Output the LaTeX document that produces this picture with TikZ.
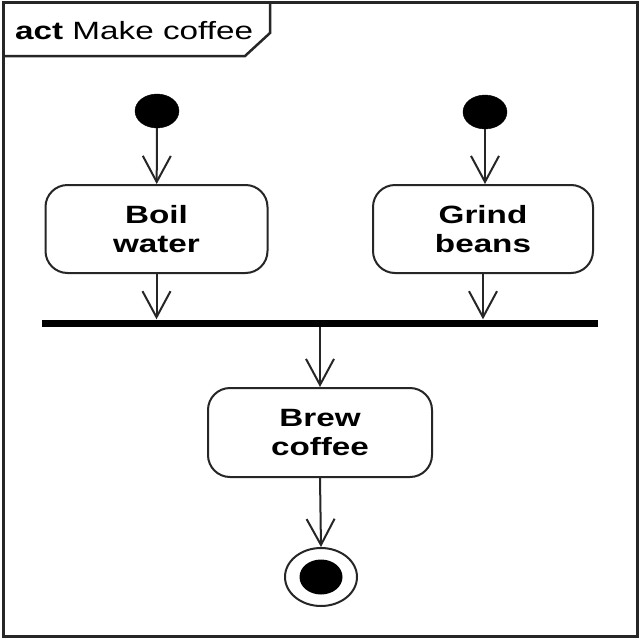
\documentclass[tikz,border=0pt]{standalone}
\usepackage{fontspec}
\setmainfont{Liberation Sans}
\newfontfamily\lblfont{Liberation Sans}[FakeStretch=1.33]
\usetikzlibrary{arrows.meta,shapes.geometric}
\begin{document}
\begin{tikzpicture}[x=1pt,y=-1pt,
  line col/.style={draw=black!85},
  action/.style={line col,line width=2pt,rounded corners=22pt,minimum width=222pt,minimum height=88pt,align=center,inner sep=0pt,font=\lblfont\fontsize{25}{29}\selectfont\bfseries},
  startnode/.style={ellipse,fill=black,draw=black,inner sep=0pt,minimum width=44pt,minimum height=34pt},
  flow/.style={line col,line width=2pt,-{Straight Barb[length=26pt,width=28pt,line width=2pt]}}
]
\useasboundingbox (0,0) rectangle (640,640);
\fill[white] (0,0) rectangle (640,640);
% frame
\draw[line col,line width=3pt] (3,2) rectangle (637,636);
\draw[line col,line width=2.5pt] (3,56) -- (245,56) -- (270,33) -- (270,2);
\node[anchor=west,inner sep=0pt,font=\lblfont\fontsize{25}{29}\selectfont] (title) at (15,31) {\textbf{act} Make coffee};
% nodes
\node[startnode] (s1) at (157,111) {};
\node[startnode] (s2) at (485,112) {};
\node[action] (boil) at (156.5,229) {Boil\\water};
\node[action,minimum width=220pt] (grind) at (483,229) {Grind\\beans};
\node[fill=black,inner sep=0pt,minimum width=556pt,minimum height=7pt] (bar) at (320,323) {};
\node[action,minimum width=224pt,minimum height=89pt] (brew) at (320,432.5) {Brew\\coffee};
\node[ellipse,line col,line width=2pt,inner sep=0pt,minimum width=72pt,minimum height=58pt] (final) at (321,577) {};
\node[ellipse,fill=black,inner sep=0pt,minimum width=43pt,minimum height=35pt] (finalin) at (final.center) {};
% flows
\draw[flow] (s1) -- (boil);
\draw[flow] (s2.south) -- (s2.south |- grind.north);
\draw[flow] (boil.south) -- (boil.south |- bar.north);
\draw[flow] (grind.south) -- (grind.south |- bar.north);
\draw[flow] (bar.south) -- (brew.north);
\draw[flow] (brew.south) -- (final.north);
\end{tikzpicture}
\end{document}
